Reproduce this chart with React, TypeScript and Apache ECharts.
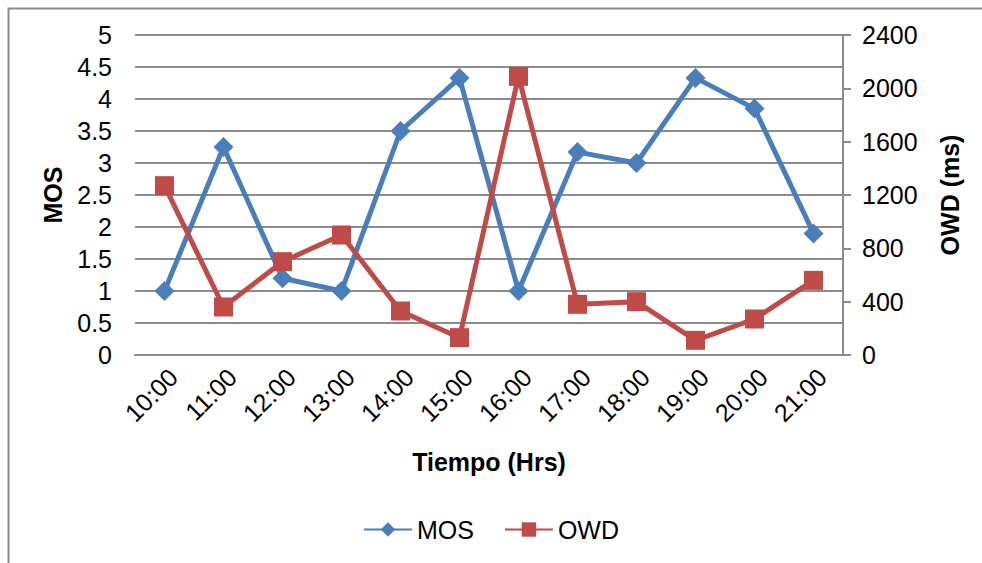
import React, { useEffect, useRef } from "react";
import * as echarts from "echarts";

const categories = ["10:00", "11:00", "12:00", "13:00", "14:00", "15:00", "16:00", "17:00", "18:00", "19:00", "20:00", "21:00"];
const mosValues = [1.0, 3.25, 1.2, 1.0, 3.5, 4.33, 1.0, 3.17, 3.0, 4.33, 3.85, 1.9];
const owdValues = [1270, 360, 700, 900, 330, 130, 2090, 380, 400, 110, 270, 560];

const FONT = "'Liberation Sans', Arial, sans-serif";
const GRID_COLOR = "#8c8c8c";
const FS = 25;

export default function App() {
  const ref = useRef<HTMLDivElement>(null);
  useEffect(() => {
    document.body.style.margin = "0";
    if (!ref.current) return;
    const chart = echarts.init(ref.current, null, { renderer: "svg" });
    chart.setOption({
      animation: false,
      backgroundColor: "#ffffff",
      textStyle: { fontFamily: FONT, color: "#000" },
      graphic: [
        {
          type: "rect",
          left: 6,
          top: 6,
          shape: { width: 1100, height: 700 },
          style: { fill: "none", stroke: GRID_COLOR, lineWidth: 2 },
          silent: true,
        },
      ],
      grid: { left: 135, right: 139, top: 35, bottom: 208 },
      legend: {
        bottom: 16,
        left: "center",
        itemWidth: 48,
        itemHeight: 18,
        itemGap: 30,
        textStyle: { fontFamily: FONT, fontSize: FS, color: "#000" },
        data: ["MOS", "OWD"],
      },
      xAxis: {
        type: "category",
        data: categories,
        boundaryGap: true,
        name: "Tiempo (Hrs)",
        nameLocation: "middle",
        nameGap: 94,
        nameTextStyle: { fontFamily: FONT, fontSize: FS, fontWeight: "bold", color: "#000" },
        axisLine: { show: true, lineStyle: { color: GRID_COLOR, width: 2 } },
        axisTick: { show: false },
        axisLabel: { rotate: 45, fontFamily: FONT, fontSize: FS, color: "#000", margin: 9, verticalAlign: "top" },
        splitLine: { show: false },
      },
      yAxis: [
        {
          type: "value",
          min: 0,
          max: 5,
          interval: 0.5,
          name: "MOS",
          nameLocation: "middle",
          nameGap: 70,
          nameRotate: 90,
          nameTextStyle: { fontFamily: FONT, fontSize: FS, fontWeight: "bold", color: "#000" },
          axisLine: { show: false },
          axisTick: { show: false },
          axisLabel: { fontFamily: FONT, fontSize: FS, color: "#000", margin: 23 },
          splitLine: { show: true, lineStyle: { color: GRID_COLOR, width: 2 } },
        },
        {
          type: "value",
          min: 0,
          max: 2400,
          interval: 400,
          name: "OWD (ms)",
          nameLocation: "middle",
          nameGap: 94,
          nameRotate: 90,
          nameTextStyle: { fontFamily: FONT, fontSize: FS, fontWeight: "bold", color: "#000" },
          axisLine: { show: true, lineStyle: { color: GRID_COLOR, width: 2 } },
          axisTick: { show: true, length: 8, lineStyle: { color: GRID_COLOR, width: 2 } },
          axisLabel: {
            fontFamily: FONT,
            fontSize: FS,
            color: "#000",
            margin: 19,
            formatter: (v: number) => String(v),
          },
          splitLine: { show: false },
        },
      ],
      series: [
        {
          name: "MOS",
          type: "line",
          yAxisIndex: 0,
          data: mosValues,
          symbol: "diamond",
          symbolSize: 20,
          itemStyle: { color: "#4a7ebb" },
          lineStyle: { color: "#4a7ebb", width: 5 },
        },
        {
          name: "OWD",
          type: "line",
          yAxisIndex: 1,
          data: owdValues,
          symbol: "rect",
          symbolSize: 19,
          itemStyle: { color: "#be4b48" },
          lineStyle: { color: "#be4b48", width: 5 },
        },
      ],
    });
    return () => chart.dispose();
  }, []);
  return <div ref={ref} style={{ position: "fixed", left: 0, top: 0, width: 982, height: 563 }} />;
}
